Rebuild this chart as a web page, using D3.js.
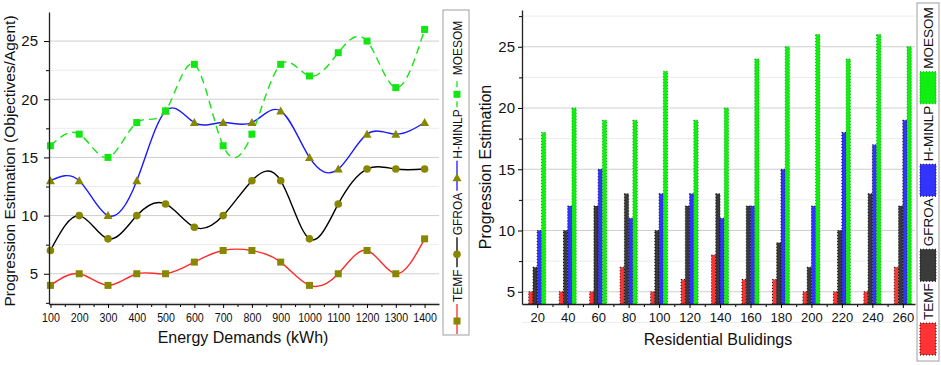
<!DOCTYPE html>
<html>
<head>
<meta charset="utf-8">
<script src="https://cdn.jsdelivr.net/npm/d3@7"></script>
<style>
  body { margin: 0; background: #fff; }
  svg { display: block; font-family: "Liberation Sans", Arial, sans-serif; }
</style>
</head>
<body>
<div id="chart"></div>
<script>
// left panel: progression vs energy demand
const energy = [100, 200, 300, 400, 500, 600, 700, 800, 900, 1000, 1100, 1200, 1300, 1400];
const lineTEMF   = [4, 5, 4, 5, 5, 6, 7, 7, 6, 4, 5, 7, 5, 8];
const lineGFROA  = [7, 10, 8, 10, 11, 9, 10, 13, 13, 8, 11, 14, 14, 14];
const lineHMINLP = [13, 13, 10, 13, 19, 18, 18, 18, 19, 15, 14, 17, 17, 18];
const lineMOESOM = [16, 17, 15, 18, 19, 23, 16, 17, 23, 22, 24, 25, 21, 26];

// right panel: progression vs residential buildings
const buildings = [20, 40, 60, 80, 100, 120, 140, 160, 180, 200, 220, 240, 260];
const barTEMF   = [5, 5, 5, 7, 5, 6, 8, 6, 6, 5, 5, 5, 7];
const barGFROA  = [7, 10, 12, 13, 10, 12, 13, 12, 9, 7, 10, 13, 12];
const barHMINLP = [10, 12, 15, 11, 13, 13, 11, 12, 15, 12, 18, 17, 19];
const barMOESOM = [18, 20, 19, 19, 23, 19, 20, 24, 25, 26, 24, 26, 25];

const seriesNames = ["TEMF", "GFROA", "H-MINLP", "MOESOM"];
const yTicks = [5, 10, 15, 20, 25];

const width = 941, height = 365;
const olive = "#878700";
const colors = { "TEMF": "#ff2b2b", "GFROA": "#000000", "H-MINLP": "#1a1aff", "MOESOM": "#14e614" };
const barColors = { "TEMF": "#ff3333", "GFROA": "#3a3a3a", "H-MINLP": "#3333ff", "MOESOM": "#11ee11" };

let svg = d3.select("#chart")
    .append("svg")
    .attr("width", width)
    .attr("height", height);

/* ---------- left chart ---------- */
const L = { left: 49, right: 439, top: 12, bottom: 304 };

let xL = d3.scaleLinear().domain([95, 1450]).range([L.left, L.right]);
let yL = d3.scaleLinear().domain([2.4, 27.5]).range([L.bottom, L.top]);

function grid(g, y, x0, x1, top) {
    let minor = d3.range(2.5, top, 5);
    g.selectAll(".gminor").data(minor).join("line")
        .attr("x1", x0).attr("x2", x1)
        .attr("y1", d => y(d)).attr("y2", d => y(d))
        .attr("stroke", "#ececec");
    g.selectAll(".gmajor").data(yTicks).join("line")
        .attr("x1", x0).attr("x2", x1)
        .attr("y1", d => y(d)).attr("y2", d => y(d))
        .attr("stroke", "#cfcfcf");
}

grid(svg.append("g"), yL, L.left, L.right, 27.5);

let lineData = [
    { name: "TEMF", values: lineTEMF, marker: "square" },
    { name: "GFROA", values: lineGFROA, marker: "circle" },
    { name: "H-MINLP", values: lineHMINLP, marker: "triangle" },
    { name: "MOESOM", values: lineMOESOM, marker: "square" }
];

let line = d3.line()
    .x((d, i) => xL(energy[i]))
    .y(d => yL(d))
    .curve(d3.curveNatural);

svg.append("g").selectAll("path")
    .data(lineData)
    .join("path")
    .attr("fill", "none")
    .attr("stroke", d => colors[d.name])
    .attr("stroke-width", 1.4)
    .attr("stroke-dasharray", d => d.name == "MOESOM" ? "8,5" : null)
    .attr("d", d => line(d.values));

function marker(g, type, fill) {
    if (type == "square") {
        g.append("rect").attr("x", -3.5).attr("y", -3.5).attr("width", 7).attr("height", 7)
            .attr("fill", fill);
    } else if (type == "circle") {
        g.append("circle").attr("r", 3.8).attr("fill", fill);
    } else {
        g.append("path").attr("d", "M0,-4.5L4.5,3.5L-4.5,3.5Z").attr("fill", fill);
    }
}

for (let s of lineData) {
    let fill = s.name == "MOESOM" ? colors.MOESOM : olive;
    s.values.forEach((v, i) => {
        let g = svg.append("g").attr("transform", `translate(${xL(energy[i])},${yL(v)})`);
        marker(g, s.marker, fill);
    });
}

// axes
svg.append("g")
    .attr("transform", `translate(${L.left},0)`)
    .call(d3.axisLeft(yL).tickValues(d3.range(2.5, 27.5, 2.5).filter(d => d % 5 != 0)).tickSize(3).tickFormat(""))
    .call(g => g.select(".domain").remove());
svg.append("g")
    .attr("transform", `translate(${L.left},0)`)
    .call(d3.axisLeft(yL).tickValues(yTicks).tickSize(5).tickPadding(6).tickSizeOuter(0))
    .call(g => g.selectAll("text").attr("font-size", 15).attr("fill", "#111"))
    .call(g => g.select(".domain").attr("stroke", "#222").attr("stroke-width", 1.3));

svg.append("g")
    .attr("transform", `translate(0,${L.bottom})`)
    .call(d3.axisBottom(xL).tickValues(d3.range(150, 1450, 100)).tickSize(3).tickFormat(""))
    .call(g => g.select(".domain").remove());
svg.append("g")
    .attr("transform", `translate(0,${L.bottom})`)
    .call(d3.axisBottom(xL).tickValues(energy).tickFormat(d3.format("d")).tickSize(4).tickPadding(5).tickSizeOuter(0))
    .call(g => g.selectAll("text").attr("font-size", 13).attr("fill", "#111")
        .attr("transform", "scale(0.82,1)"))
    .call(g => g.select(".domain").attr("stroke", "#222").attr("stroke-width", 1.3));

svg.append("text")
    .attr("x", (L.left + L.right) / 2 - 1)
    .attr("y", 343)
    .attr("text-anchor", "middle")
    .attr("font-size", 16)
    .attr("fill", "#111")
    .text("Energy Demands (kWh)");

svg.append("text")
    .attr("transform", `translate(15,${(L.top + 310) / 2}) rotate(-90)`)
    .attr("text-anchor", "middle")
    .attr("font-size", 15.5)
    .attr("fill", "#111")
    .text("Progression Estimation (Objectives/Agent)");

// left legend
svg.append("rect")
    .attr("x", 443).attr("y", 10).attr("width", 26).attr("height", 325)
    .attr("fill", "#fff").attr("stroke", "#a0a0a0");

let ly = 334;
for (let s of lineData) {
    let cx = 457;
    let fill = s.name == "MOESOM" ? colors.MOESOM : olive;
    svg.append("line")
        .attr("x1", cx).attr("x2", cx)
        .attr("y1", ly).attr("y2", ly - 30)
        .attr("stroke", colors[s.name])
        .attr("stroke-width", 1.3)
        .attr("stroke-dasharray", s.name == "MOESOM" ? "6,4" : null);
    marker(svg.append("g").attr("transform", `translate(${cx},${ly - 13})`), s.marker, fill);
    ly -= 32;
    let t = svg.append("text")
        .attr("transform", `translate(${cx + 4.5},${ly}) rotate(-90)`)
        .attr("font-size", 12)
        .attr("fill", "#111")
        .text(s.name);
    ly -= t.node().getComputedTextLength() + 2;
}

/* ---------- right chart ---------- */
const R = { left: 522, right: 915, top: 10, bottom: 304 };

let xR = d3.scaleLinear().domain([10, 268]).range([R.left, R.right]);
let yR = d3.scaleLinear().domain([4, 28]).range([R.bottom, R.top]);

grid(svg.append("g"), yR, R.left, R.right, 28);

let barSeries = [
    { name: "TEMF", values: barTEMF },
    { name: "GFROA", values: barGFROA },
    { name: "H-MINLP", values: barHMINLP },
    { name: "MOESOM", values: barMOESOM }
];

let sub = d3.scaleBand()
    .domain(seriesNames)
    .range([-8.5, 8.5]);

let bar = svg.selectAll(".bar")
    .data(barSeries)
    .join("g")
    .attr("class", "bar");

bar.selectAll("rect")
    .data(s => s.values.map((v, i) => ({ name: s.name, x: buildings[i], v: v })))
    .join("rect")
    .attr("x", d => xR(d.x) + sub(d.name))
    .attr("width", sub.bandwidth())
    .attr("y", d => yR(d.v))
    .attr("height", d => yR(4) - yR(d.v))
    .attr("fill", d => barColors[d.name])
    .attr("stroke", d => d.name == "MOESOM" ? "#0a9a0a" : "#000")
    .attr("stroke-width", 0.9)
    .attr("stroke-dasharray", "1,2");

svg.append("g")
    .attr("transform", `translate(${R.left},0)`)
    .call(d3.axisLeft(yR).tickValues(d3.range(5, 28, 2.5).filter(d => d % 5 != 0)).tickSize(3).tickFormat(""))
    .call(g => g.select(".domain").remove());
svg.append("g")
    .attr("transform", `translate(${R.left},0)`)
    .call(d3.axisLeft(yR).tickValues(yTicks).tickSize(4).tickPadding(3).tickSizeOuter(0))
    .call(g => g.selectAll("text").attr("font-size", 15).attr("fill", "#111"))
    .call(g => g.select(".domain").attr("stroke", "#222").attr("stroke-width", 1.3));

svg.append("g")
    .attr("transform", `translate(0,${R.bottom})`)
    .call(d3.axisBottom(xR).tickValues(d3.range(30, 270, 20)).tickSize(3).tickFormat(""))
    .call(g => g.select(".domain").remove());
svg.append("g")
    .attr("transform", `translate(0,${R.bottom})`)
    .call(d3.axisBottom(xR).tickValues(buildings).tickSize(4).tickPadding(5).tickSizeOuter(0))
    .call(g => g.selectAll("text").attr("font-size", 13).attr("fill", "#111"))
    .call(g => g.select(".domain").attr("stroke", "#222").attr("stroke-width", 1.3));

svg.append("text")
    .attr("x", 718)
    .attr("y", 345)
    .attr("text-anchor", "middle")
    .attr("font-size", 16)
    .attr("fill", "#111")
    .text("Residential Bulidings");

svg.append("text")
    .attr("transform", `translate(491,167) rotate(-90)`)
    .attr("text-anchor", "middle")
    .attr("font-size", 16)
    .attr("fill", "#111")
    .text("Progression Estimation");

// right legend
svg.append("rect")
    .attr("x", 917).attr("y", 3).attr("width", 22).attr("height", 358)
    .attr("fill", "#fff").attr("stroke", "#a0a0a0");

let ry = 355;
for (let name of seriesNames) {
    svg.append("rect")
        .attr("x", 920).attr("y", ry - 32).attr("width", 16).attr("height", 32)
        .attr("fill", barColors[name])
        .attr("stroke", name == "MOESOM" ? "#0a9a0a" : "#000")
        .attr("stroke-width", 0.9)
        .attr("stroke-dasharray", "1,2");
    ry -= 35;
    let t = svg.append("text")
        .attr("transform", `translate(933,${ry}) rotate(-90)`)
        .attr("font-size", 13.5)
        .attr("fill", "#111")
        .text(name);
    ry -= t.node().getComputedTextLength() + 2;
}
</script>
</body>
</html>
